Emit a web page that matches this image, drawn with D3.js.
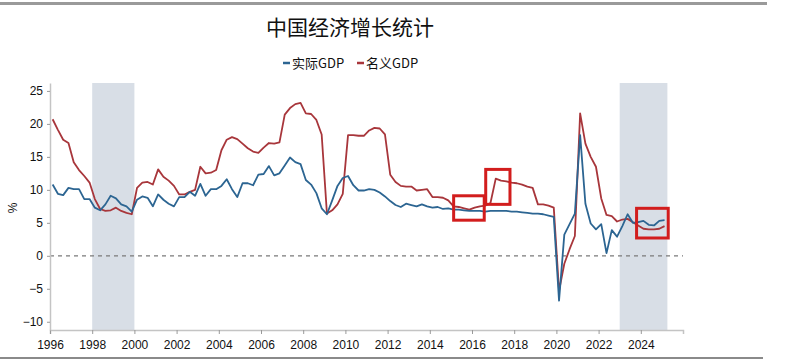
<!DOCTYPE html>
<html><head><meta charset="utf-8">
<script src="https://cdn.jsdelivr.net/npm/d3@7"></script>
<style>body{margin:0;background:#fff;}svg{display:block;}</style>
</head><body><svg id="c" width="800" height="362"></svg>
<script>
const title = "中国经济增长统计";
const seriesNames = ["实际GDP", "名义GDP"];
const seriesColors = ["#2c6592", "#a8363b"];
const startYear = 1996; // first point = 1996Q1, quarterly
const realGDP = [
  10.8, 9.4, 9.2, 10.3,  10.1, 10.1, 8.6, 8.6,  7.3, 6.9, 7.8, 9.1,  8.7, 7.8, 7.5, 6.7,
  8.5, 9.0, 8.8, 7.5,  9.3, 8.5, 7.9, 7.5,  8.9, 8.9, 9.7, 9.1,  10.9, 9.1, 10.1, 10.1,
  10.6, 11.6, 10.1, 8.9,  11.0, 11.0, 10.7, 12.3,  12.4, 13.6, 12.2, 12.5,  13.7, 14.9, 14.2, 13.9,
  11.5, 10.8, 9.5, 7.2,  6.3, 8.4, 10.6, 11.8,  12.1, 10.7, 9.9, 9.9,  10.1, 10.0, 9.6, 9.0,
  8.3, 7.7, 7.4, 7.9,  7.7, 7.5, 7.8, 7.5,  7.3, 7.4, 7.1, 7.2,  7.0, 7.0, 6.9, 6.8,
  6.8, 6.8, 6.7, 6.8,  6.8, 6.8, 6.8, 6.7,  6.7, 6.6, 6.5, 6.4,  6.4, 6.3, 6.1, 5.9,
  -6.8, 3.2, 4.8, 6.4,  18.3, 7.9, 4.9, 4.0,  4.8, 0.4, 3.9, 2.9,  4.5, 6.3, 5.0, 5.1,
  5.3, 4.7, 4.6, 5.3,  5.4
];
const nominalGDP = [
  20.7, 19.1, 17.6, 17.1,  14.2, 13.0, 12.1, 11.1,  8.6, 7.1, 6.8, 6.9,  7.3, 6.8, 6.5, 6.3,
  10.3, 11.1, 11.2, 10.8,  13.1, 12.0, 11.4, 10.6,  9.3, 9.3, 9.7, 10.0,  13.5, 12.5, 12.6, 13.0,
  16.0, 17.6, 18.0, 17.7,  17.0, 16.3, 15.8, 15.6,  16.4, 17.1, 17.0, 17.2,  21.4, 22.4, 23.0, 23.2,
  21.6, 21.5, 20.6, 18.4,  6.4, 6.9, 7.8, 9.4,  18.3, 18.3, 18.2, 18.2,  19.0, 19.4, 19.3, 18.4,
  12.3, 11.2, 10.6, 10.5,  10.5, 9.9, 10.0, 10.1,  8.9, 8.9, 8.8, 8.4,  7.5, 7.4, 7.2, 7.0,
  7.3, 7.5, 7.6, 8.0,  11.7, 11.4, 11.3, 11.1,  11.0, 10.8, 10.5, 10.3,  7.8, 7.8, 7.6, 7.3,
  -5.3, -1.2, 1.0, 3.0,  21.6, 17.0, 15.0, 13.5,  8.7, 6.2, 6.0, 5.2,  5.5, 5.6, 5.1, 4.6,
  4.1, 4.0, 4.0, 4.1,  4.5
];
const xTicks = [1996, 1998, 2000, 2002, 2004, 2006, 2008, 2010, 2012, 2014, 2016, 2018, 2020, 2022, 2024];
const yTicks = [-10, -5, 0, 5, 10, 15, 20, 25];
const xDomain = [1996, 2026];
const yDomain = [-11.25, 26.2];
const shadedPeriods = [[1998, 2000], [2023, 2025.26]];
// highlight boxes in data units: [yearFrom, yearTo, valueTop, valueBottom]
const highlightBoxes = [[2015.13, 2016.58, 9.1, 5.4], [2016.65, 2017.8, 13.1, 7.8], [2023.8, 2025.3, 7.2, 2.7]];

const svg = d3.select("#c");
const x = d3.scaleLinear().domain(xDomain).range([50, 683]);
const y = d3.scaleLinear().domain(yDomain).range([330, 83]);
const tOf = i => startYear + i / 4 + 0.125;

// frame lines
svg.append("line").attr("x1", 0).attr("x2", 767).attr("y1", 3.5).attr("y2", 3.5)
  .attr("stroke", "#9a9a9a").attr("stroke-width", 3);
svg.append("line").attr("x1", 0).attr("x2", 763).attr("y1", 358).attr("y2", 358)
  .attr("stroke", "#8a8a8a").attr("stroke-width", 2);

// shading
svg.selectAll("rect.shade").data(shadedPeriods).enter().append("rect")
  .attr("class", "shade")
  .attr("x", d => x(d[0])).attr("width", d => x(d[1]) - x(d[0]))
  .attr("y", y(yDomain[1])).attr("height", y(yDomain[0]) - y(yDomain[1]))
  .attr("fill", "#d8dee6");

// zero line
svg.append("line").attr("x1", x(xDomain[0])).attr("x2", x(xDomain[1]))
  .attr("y1", y(0)).attr("y2", y(0))
  .attr("stroke", "#7a7a7a").attr("stroke-width", 1.3).attr("stroke-dasharray", "4,4");

// axes
const xAxis = svg.append("g").attr("transform", `translate(0,${y(yDomain[0])})`)
  .call(d3.axisBottom(x).tickValues(xTicks).tickFormat(d3.format("d")).tickSize(4).tickSizeOuter(4));
const yAxis = svg.append("g").attr("transform", `translate(${x(xDomain[0])},0)`)
  .call(d3.axisLeft(y).tickValues(yTicks).tickFormat(d => d < 0 ? "\u2212" + Math.abs(d) : d).tickSize(3).tickSizeOuter(0));
[xAxis, yAxis].forEach(g => {
  g.select(".domain").attr("stroke", "#c4c4c4").attr("stroke-width", 1.5);
  g.selectAll(".tick line").attr("stroke", "#9a9a9a");
  g.selectAll("text").attr("fill", "#111").style("font-family", "'Liberation Sans', Arial, sans-serif").style("font-size", "12px");
});
xAxis.selectAll("text").attr("dy", "1.0em");
yAxis.selectAll("text").attr("x", -7);

svg.append("text").attr("transform", "translate(17,208) rotate(-90)")
  .attr("text-anchor", "middle").attr("fill", "#111")
  .style("font-family", "'Liberation Sans', Arial, sans-serif").style("font-size", "12px").text("%");

// lines
const line = d3.line().x((d, i) => x(tOf(i))).y(d => y(d));
[nominalGDP, realGDP].forEach((s, k) => {
  svg.append("path").datum(s).attr("d", line).attr("fill", "none")
    .attr("stroke", k === 0 ? seriesColors[1] : seriesColors[0])
    .attr("stroke-width", 1.8).attr("stroke-linejoin", "round");
});

// highlight boxes
svg.selectAll("rect.hl").data(highlightBoxes).enter().append("rect")
  .attr("class", "hl")
  .attr("x", d => x(d[0])).attr("width", d => x(d[1]) - x(d[0]))
  .attr("y", d => y(d[2])).attr("height", d => y(d[3]) - y(d[2]))
  .attr("fill", "none").attr("stroke", "#d21d1d").attr("stroke-width", 3);

// title
svg.append("text").attr("x", 350).attr("y", 35).attr("text-anchor", "middle")
  .attr("fill", "#111").style("font-family", "'Noto Sans CJK SC', sans-serif")
  .style("font-size", "21px").text(title);

// legend
const leg = svg.append("g").attr("transform", "translate(283,63)");
const legX = [0, 74];
seriesNames.forEach((n, k) => {
  const g = leg.append("g").attr("transform", `translate(${legX[k]},0)`);
  g.append("line").attr("x1", 0).attr("x2", 7).attr("y1", 0).attr("y2", 0)
    .attr("stroke", seriesColors[k]).attr("stroke-width", 2.5);
  g.append("text").attr("x", 9).attr("y", 5).attr("fill", "#111")
    .style("font-family", "'Noto Sans CJK SC', sans-serif").style("font-size", "13px").text(n);
});
</script></body></html>
